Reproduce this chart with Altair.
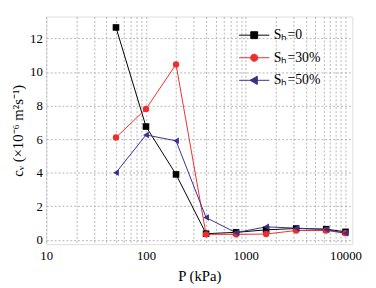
import altair as alt
import pandas as pd

pressure = [50, 100, 200, 400, 800, 1600, 3200, 6400, 10000]
series_names = ["Sₕ=0", "Sₕ=30%", "Sₕ=50%"]
cv_sh0 = [12.65, 6.75, 3.9, 0.37, 0.45, 0.6, 0.68, 0.64, 0.48]
cv_sh30 = [6.1, 7.8, 10.45, 0.33, 0.33, 0.35, 0.56, 0.56, 0.4]
cv_sh50 = [4.0, 6.25, 5.9, 1.33, 0.43, 0.78, 0.7, 0.62, 0.4]
colors = ["#000000", "#ee2e2e", "#3b2e8c"]
x_ticks = [10, 20, 30, 40, 50, 60, 70, 80, 90, 100, 200, 300, 400, 500, 600, 700, 800, 900,
           1000, 2000, 3000, 4000, 5000, 6000, 7000, 8000, 9000, 10000]
y_ticks = [0, 2, 4, 6, 8, 10, 12]

rows = []
for name, vals in zip(series_names, [cv_sh0, cv_sh30, cv_sh50]):
    for p, v in zip(pressure, vals):
        rows.append({"P": p, "cv": v, "series": name})
df = pd.DataFrame(rows)

FONT = "Liberation Serif, Times New Roman, serif"

xaxis = alt.Axis(values=x_ticks, format="d",
                 labelExpr="indexof(['10','100','1000','10000'], datum.label) >= 0 ? datum.label : ''",
                 title="P (kPa)", grid=True, gridDash=[2, 2], gridColor="#b5b5b5",
                 ticks=False, domain=False, labelFont=FONT, labelFontSize=13,
                 labelColor="black", titleFont=FONT, titleFontSize=15,
                 titleFontWeight="normal", titleColor="black", labelPadding=6,
                 titlePadding=6, labelFlush=False, labelOverlap=False)
yaxis = alt.Axis(values=y_ticks, title="cᵥ (×10⁻⁶ m²s⁻¹)", grid=True,
                 gridDash=[2, 2], gridColor="#b5b5b5", ticks=False, domain=False,
                 labelFont=FONT, labelFontSize=13, labelColor="black",
                 titleFont=FONT, titleFontSize=15, titleFontWeight="normal",
                 titleColor="black", labelPadding=4, titlePadding=4,
                 labelOverlap=False, labelFlush=False)
xscale = alt.Scale(type="log", domain=[10, 11700], nice=False)
yscale = alt.Scale(domain=[-0.25, 13.3], nice=False, zero=False)


def xenc():
    return alt.X("P:Q", scale=xscale, axis=xaxis)


def yenc():
    return alt.Y("cv:Q", scale=yscale, axis=yaxis)


color_scale = alt.Scale(domain=series_names, range=colors)

legend_paths = [
    "M-4.4,0H4.4M-1,-1H1V1H-1Z",
    "M-4.4,0H4.4M-1.05,0A1.05,1.05,0,1,0,1.05,0A1.05,1.05,0,1,0,-1.05,0Z",
    "M-4.4,0H4.4M-1.2,0L0.9,-1.2L0.9,1.2Z",
]
leg = alt.Legend(title=None, orient="none", legendX=205, legendY=12, symbolOpacity=1,
                 symbolSize=49, symbolStrokeWidth=1, labelFont=FONT, labelFontSize=14,
                 labelColor="black", labelOffset=13, rowPadding=9)

legend_layer = alt.Chart(df).mark_point(opacity=0, filled=False, strokeWidth=1).encode(
    x=xenc(), y=yenc(),
    color=alt.Color("series:N", scale=color_scale, legend=leg),
    fill=alt.Fill("series:N", scale=alt.Scale(domain=series_names, range=colors), legend=leg),
    shape=alt.Shape("series:N", scale=alt.Scale(domain=series_names, range=legend_paths), legend=leg),
)

lines = alt.Chart(df).mark_line(strokeWidth=1).encode(
    x=xenc(), y=yenc(), color=alt.Color("series:N", scale=color_scale, legend=None))

shapes = ["square", "circle", "triangle-left"]
sizes = [45, 42, 45]
point_layers = []
for name, shp, sz in zip(series_names, shapes, sizes):
    point_layers.append(
        alt.Chart(df).transform_filter(alt.datum.series == name)
        .mark_point(shape=shp, filled=True, size=sz, opacity=1)
        .encode(x=xenc(), y=yenc(), color=alt.Color("series:N", scale=color_scale, legend=None))
    )

chart = alt.layer(legend_layer, lines, *point_layers).properties(
    width=312, height=232,
    autosize=alt.AutoSizeParams(type="none"),
    padding={"left": 39, "top": 6, "right": 16, "bottom": 40},
).configure_view(stroke="black", strokeWidth=1).configure(background="white", font=FONT)

chart.save("out.html", embed_options={"renderer": "svg", "actions": False})
